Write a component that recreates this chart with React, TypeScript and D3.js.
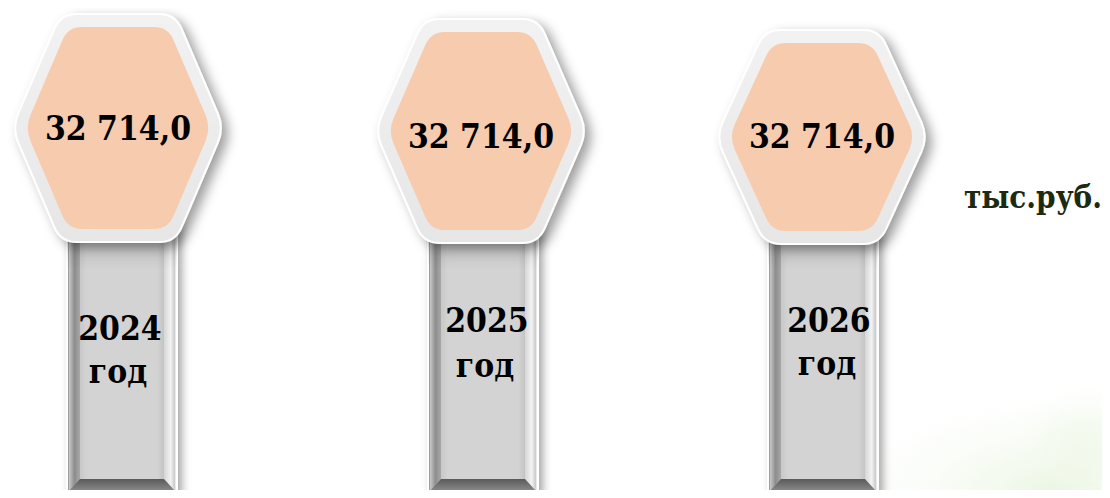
import React from "react";
import * as d3 from "d3";

const years = ["2024", "2025", "2026"];
const values = [32714.0, 32714.0, 32714.0];
const unitLabel = "тыс.руб.";
const yearSuffix = "год";

// layout (pixels)
const W = 1110, H = 498;
const centersX = [118, 481, 822];
const centersY = [128, 131, 137];
const innerHalfH = [101, 99, 94];
const stemCX = [122, 483, 823];
const valueBaseline = [140, 148, 148];
const yearBaseline = [340, 332, 332];
const godBaseline = [383, 377, 375];
const yearTextX = [120, 487, 829];

const ruLocale = d3.formatLocale({ decimal: ",", thousands: "\u00a0", grouping: [3], currency: ["", " руб."] });
const fmt = ruLocale.format(",.1f");

function roundedPoly(pts: [number, number][], r: number) {
  const p = d3.path();
  const n = pts.length;
  for (let i = 0; i < n; i++) {
    const prev = pts[(i - 1 + n) % n];
    const cur = pts[i];
    const next = pts[(i + 1) % n];
    const d1 = Math.hypot(cur[0] - prev[0], cur[1] - prev[1]);
    const d2 = Math.hypot(next[0] - cur[0], next[1] - cur[1]);
    const a = [cur[0] + ((prev[0] - cur[0]) * r) / d1, cur[1] + ((prev[1] - cur[1]) * r) / d1];
    const b = [cur[0] + ((next[0] - cur[0]) * r) / d2, cur[1] + ((next[1] - cur[1]) * r) / d2];
    if (i === 0) p.moveTo(a[0], a[1]);
    else p.lineTo(a[0], a[1]);
    p.quadraticCurveTo(cur[0], cur[1], b[0], b[1]);
  }
  p.closePath();
  return p.toString();
}

function hexPts(cx: number, cy: number, hw: number, hh: number, tw: number): [number, number][] {
  return [
    [cx - hw, cy],
    [cx - tw, cy - hh],
    [cx + tw, cy - hh],
    [cx + hw, cy],
    [cx + tw, cy + hh],
    [cx - tw, cy + hh],
  ];
}

export default function App() {
  const idx = d3.range(years.length);
  const stemW = 110, bevel = 13, stemBottom = 493, stemTop = 200;
  return (
    <div style={{ margin: -8 }}>
      <svg width={W} height={H} style={{ display: "block" }} fontFamily="'DejaVu Serif', serif">
        <defs>
          <filter id="shadow" x="-30%" y="-30%" width="160%" height="160%">
            <feDropShadow dx="6" dy="5" stdDeviation="6" floodColor="#000" floodOpacity="0.38" />
          </filter>
          <filter id="stemShadow" x="-30%" y="-10%" width="160%" height="120%">
            <feDropShadow dx="4" dy="3" stdDeviation="4" floodColor="#000" floodOpacity="0.35" />
          </filter>
          <filter id="blur" x="-50%" y="-50%" width="200%" height="200%">
            <feGaussianBlur stdDeviation="18" />
          </filter>
          <linearGradient id="ring" x1="0" y1="0" x2="0" y2="1">
            <stop offset="0" stopColor="#f2f2f2" />
            <stop offset="1" stopColor="#e6e6e6" />
          </linearGradient>
          <linearGradient id="stemOuter" x1="0" y1="0" x2="1" y2="0">
            <stop offset="0" stopColor="#9a9a9a" />
            <stop offset="0.12" stopColor="#b8b8b8" />
            <stop offset="0.88" stopColor="#d8d8d8" />
            <stop offset="1" stopColor="#eeeeee" />
          </linearGradient>
          <linearGradient id="leftBevel" x1="0" y1="0" x2="1" y2="0">
            <stop offset="0" stopColor="#c9c9c9" />
            <stop offset="0.5" stopColor="#8d8d8d" />
            <stop offset="1" stopColor="#a8a8a8" />
          </linearGradient>
          <linearGradient id="rightBevel" x1="0" y1="0" x2="1" y2="0">
            <stop offset="0" stopColor="#d6d6d6" />
            <stop offset="0.6" stopColor="#f2f2f2" />
            <stop offset="1" stopColor="#c8c8c8" />
          </linearGradient>
          <linearGradient id="bottomBevel" x1="0" y1="0" x2="0" y2="1">
            <stop offset="0" stopColor="#5a5a5a" />
            <stop offset="1" stopColor="#8a8a8a" />
          </linearGradient>
          <linearGradient id="face" x1="0" y1="0" x2="1" y2="0">
            <stop offset="0" stopColor="#c8c8c8" />
            <stop offset="0.08" stopColor="#d3d3d3" />
            <stop offset="0.92" stopColor="#d3d3d3" />
            <stop offset="1" stopColor="#c4c4c4" />
          </linearGradient>
          <linearGradient id="faceTop" x1="0" y1="0" x2="0" y2="1">
            <stop offset="0" stopColor="#000" stopOpacity="0.25" />
            <stop offset="1" stopColor="#000" stopOpacity="0" />
          </linearGradient>
          <radialGradient id="green" cx="0.5" cy="0.5" r="0.5">
            <stop offset="0" stopColor="#dcefce" stopOpacity="0.55" />
            <stop offset="1" stopColor="#eef7e8" stopOpacity="0" />
          </radialGradient>
        </defs>
        <rect x={0} y={0} width={W} height={H} fill="#ffffff" />
        <ellipse cx={1050} cy={490} rx={200} ry={90} fill="url(#green)" />
        <ellipse cx={1090} cy={440} rx={50} ry={30} fill="#e9f5e0" opacity={0.5} filter="url(#blur)" />

        {idx.map((i) => {
          const x0 = stemCX[i] - stemW / 2;
          const x1 = stemCX[i] + stemW / 2;
          const ix0 = x0 + bevel, ix1 = x1 - bevel;
          const iyb = stemBottom - 14;
          return (
            <g key={"stem" + i}>
              <rect x={x0} y={stemTop} width={stemW} height={stemBottom - stemTop} fill="url(#stemOuter)" stroke="#ffffff" strokeWidth={2} filter="url(#stemShadow)" />
              <path d={`M${x0 + 2},${stemTop} L${ix0},${stemTop} L${ix0},${iyb} L${x0 + 2},${stemBottom - 2} Z`} fill="url(#leftBevel)" />
              <path d={`M${x1 - 2},${stemTop} L${ix1},${stemTop} L${ix1},${iyb} L${x1 - 2},${stemBottom - 2} Z`} fill="url(#rightBevel)" />
              <path d={`M${x0 + 2},${stemBottom - 2} L${ix0},${iyb} L${ix1},${iyb} L${x1 - 2},${stemBottom - 2} Z`} fill="url(#bottomBevel)" />
              <rect x={ix0} y={stemTop} width={ix1 - ix0} height={iyb - stemTop} fill="url(#face)" />
              <rect x={ix0 - bevel} y={stemTop} width={ix1 - ix0 + 2 * bevel} height={70} fill="url(#faceTop)" />
              <text x={yearTextX[i]} y={yearBaseline[i]} textAnchor="middle" fontWeight="bold" fontSize={30} fill="#000" transform={`translate(0,${yearBaseline[i]}) scale(1,1.12) translate(0,${-yearBaseline[i]})`}>
                {years[i]}
              </text>
              <text x={yearTextX[i] - 2} y={godBaseline[i]} textAnchor="middle" fontWeight="bold" fontSize={30} fill="#000" transform={`translate(0,${godBaseline[i]}) scale(1,1.12) translate(0,${-godBaseline[i]})`}>
                {yearSuffix}
              </text>
            </g>
          );
        })}

        {idx.map((i) => {
          const cx = centersX[i], cy = centersY[i];
          const hw = 93, hh = innerHalfH[i];
          const ring = 13;
          return (
            <g key={"hex" + i}>
              <path d={roundedPoly(hexPts(cx, cy, hw + ring, hh + ring, 50 + ring * 0.55), 16)} fill="url(#ring)" stroke="#ffffff" strokeWidth={2} filter="url(#shadow)" />
              <path d={roundedPoly(hexPts(cx, cy, hw, hh, 50), 14)} fill="#f7cbae" />
              <text x={cx} y={valueBaseline[i]} textAnchor="middle" fontWeight="bold" fontSize={30} fill="#000" transform={`translate(0,${valueBaseline[i]}) scale(1,1.12) translate(0,${-valueBaseline[i]})`}>
                {fmt(values[i])}
              </text>
            </g>
          );
        })}

        <text x={1102} y={208} textAnchor="end" fontWeight="bold" fontSize={28} fill="#1c2a12" transform="translate(0,208) scale(1,1.12) translate(0,-208)">
          {unitLabel}
        </text>
      </svg>
    </div>
  );
}
